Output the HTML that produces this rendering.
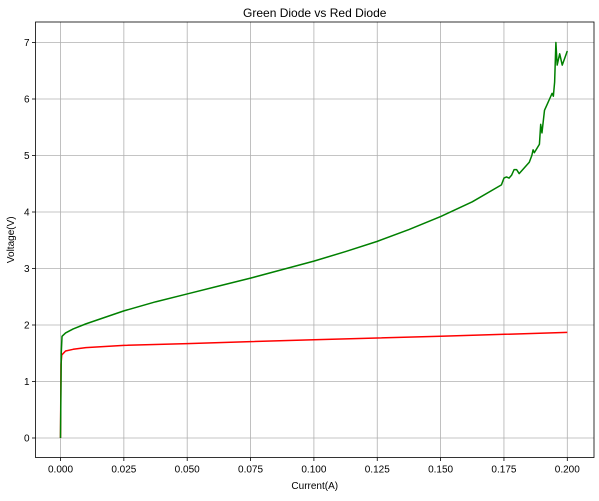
<!DOCTYPE html>
<html><head><meta charset="utf-8"><style>
body{margin:0;background:#fff;}
svg text{font-family:"Liberation Sans",sans-serif;fill:#000;}
</style></head><body>
<svg id="chart" width="599" height="496" xmlns="http://www.w3.org/2000/svg"></svg>
<script>
const xTicks=[0,0.025,0.05,0.075,0.1,0.125,0.15,0.175,0.2];
const xTickLabels=["0.000","0.025","0.050","0.075","0.100","0.125","0.150","0.175","0.200"];
const yTicks=[0,1,2,3,4,5,6,7];
const greenI=[0,0.0003,0.0006,0.002,0.005,0.01,0.025,0.0375,0.05,0.0625,0.075,0.0875,0.1,0.1125,0.125,0.1375,0.15,0.1625,0.174,0.175,0.176,0.177,0.178,0.179,0.180,0.181,0.185,0.186,0.1865,0.187,0.189,0.1895,0.190,0.191,0.192,0.193,0.194,0.1945,0.195,0.1955,0.196,0.197,0.198,0.2];
const greenV=[0,1.5,1.8,1.86,1.93,2.02,2.25,2.41,2.55,2.69,2.83,2.98,3.13,3.3,3.48,3.69,3.92,4.18,4.48,4.6,4.62,4.6,4.65,4.75,4.75,4.68,4.88,5.0,5.1,5.05,5.2,5.55,5.4,5.8,5.9,6.0,6.1,6.05,6.3,7.0,6.6,6.8,6.6,6.85];
const redI=[0,0.0002,0.0005,0.002,0.005,0.01,0.025,0.05,0.075,0.1,0.15,0.2];
const redV=[0,1.3,1.47,1.54,1.57,1.6,1.64,1.67,1.705,1.74,1.8,1.87];
const L=35.5,R=594,T=22,B=457.5;
const sx=v=>60.5+v/0.025*63.35;
const sy=v=>438-v*56.5;
const svg=document.getElementById('chart');
const NS="http://www.w3.org/2000/svg";
function mk(tag,attrs,parent){const e=document.createElementNS(NS,tag);for(const k in attrs)e.setAttribute(k,attrs[k]);(parent||svg).appendChild(e);return e;}
xTicks.forEach((t,i)=>{
  const g=mk('line',{x1:sx(t),x2:sx(t),y1:T,y2:B,stroke:'#b0b0b0','stroke-width':0.8});
  
  
  mk('line',{x1:sx(t),x2:sx(t),y1:B,y2:B+3.5,stroke:'#000','stroke-width':0.8});
  const tx=mk('text',{x:sx(t),y:B+15,'font-size':10,'text-anchor':'middle'});
  tx.textContent=xTickLabels[i];
  
  
});
yTicks.forEach(t=>{
  const g=mk('line',{x1:L,x2:R,y1:sy(t),y2:sy(t),stroke:'#b0b0b0','stroke-width':0.8});
  
  
  mk('line',{x1:L-3.5,x2:L,y1:sy(t),y2:sy(t),stroke:'#000','stroke-width':0.8});
  const tx=mk('text',{x:L-6,y:sy(t)+3.5,'font-size':10,'text-anchor':'end'});
  tx.textContent=t;
  
  
});
function line(xs,ys,color,name){
  const p=mk('polyline',{points:xs.map((x,i)=>sx(x)+','+sy(ys[i])).join(' '),fill:'none',stroke:color,'stroke-width':1.5,'stroke-linejoin':'round'});
  
  
}
line(redI,redV,'#ff0000','red-diode-line');
line(greenI,greenV,'#008000','green-diode-line');
const fr=mk('rect',{x:L,y:T,width:R-L,height:B-T,fill:'none',stroke:'#000','stroke-width':0.8});


const ti=mk('text',{x:(L+R)/2,y:17,'font-size':12,'text-anchor':'middle'});
ti.textContent='Green Diode vs Red Diode';


const xl=mk('text',{x:(L+R)/2,y:489,'font-size':10,'text-anchor':'middle'});
xl.textContent='Current(A)';


const yl=mk('text',{x:0,y:0,'font-size':10,'text-anchor':'middle',transform:'translate(14,'+((T+B)/2)+') rotate(-90)'});
yl.textContent='Voltage(V)';


</script>
</body></html>
